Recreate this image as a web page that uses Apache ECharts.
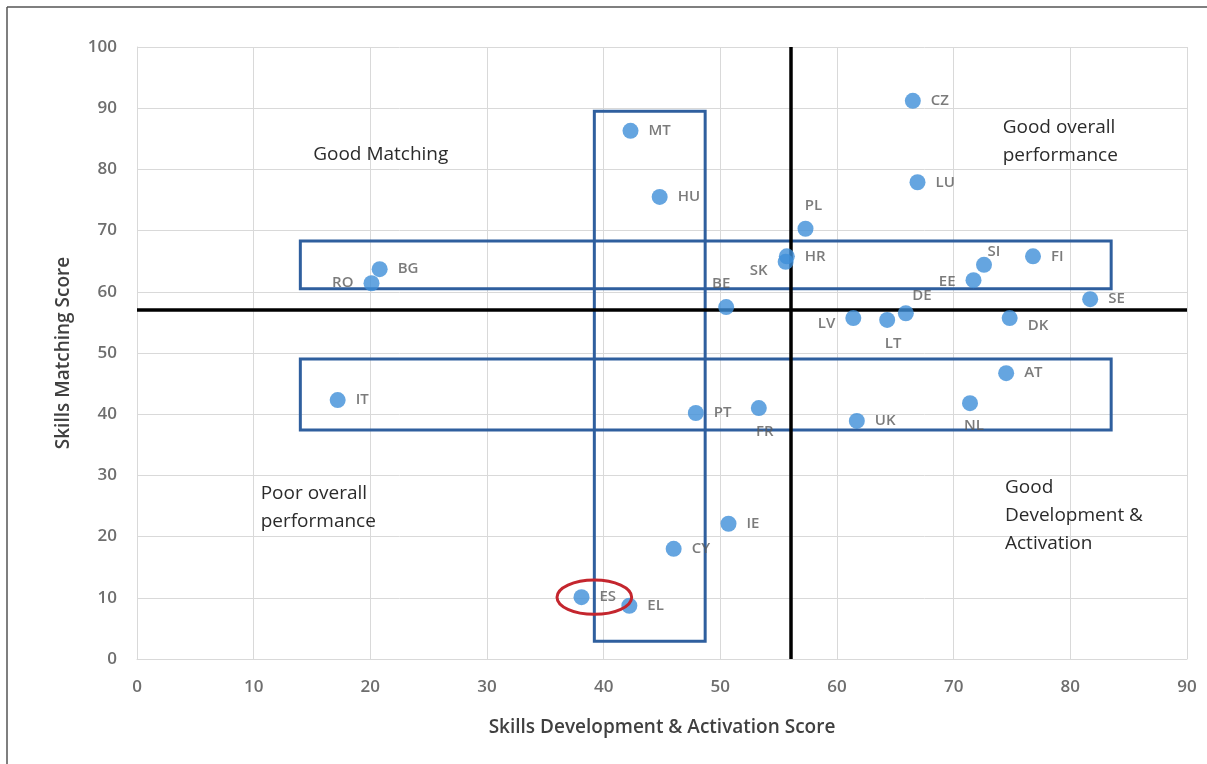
<!DOCTYPE html>
<html>
<head>
<meta charset="utf-8">
<script src="https://cdn.jsdelivr.net/npm/echarts@6/dist/echarts.min.js"></script>
<style>
  html, body { margin: 0; padding: 0; background: #fff; }
  #chart { width: 1207px; height: 764px; }
</style>
</head>
<body>
<div id="chart"></div>
<script>
// data
var countries  = ['CZ','LU','MT','HU','PL','HR','SK','SI','FI','EE','SE','BG','RO','BE','DE','LV','LT','DK','AT','NL','UK','IT','PT','FR','IE','CY','ES','EL'];
var devScore   = [66.5,66.9,42.3,44.8,57.3,55.7,55.6,72.6,76.8,71.7,81.7,20.8,20.1,50.5,65.9,61.4,64.3,74.8,74.5,71.4,61.7,17.2,47.9,53.3,50.7,46.0,38.1,42.2];
var matchScore = [91.2,77.9,86.3,75.5,70.3,65.8,64.9,64.4,65.8,61.9,58.8,63.7,61.4,57.5,56.5,55.7,55.4,55.7,46.7,41.8,38.9,42.3,40.2,41.0,22.1,18.0,10.1,8.7];

// cut lines (averages)
var devCut = 56;
var matchCut = 57;

// highlight boxes: [xFrom, yFrom, xTo, yTo]
var boxes = [
  [39.2, 2.9, 48.7, 89.5],
  [14.0, 60.5, 83.5, 68.3],
  [14.0, 37.4, 83.5, 49.0]
];

// circled country
var ringCenter = [39.2, 10.1];
var ringRadius = [3.2, 2.8];

// quadrant notes (anchor = left edge, vertical middle of the block)
var notes = [
  { text: 'Good Matching', at: [15.1, 82.4] },
  { text: 'Good overall\nperformance', at: [74.2, 84.6] },
  { text: 'Poor overall\nperformance', at: [10.6, 24.7] },
  { text: 'Good\nDevelopment &\nActivation', at: [74.4, 23.4] }
];

// label placement (style only)
var labelPlace = {
  RO: ['left', [0, 0]], SK: ['left', [0, 9]], EE: ['left', [0, 2]], LV: ['left', [0, 6]],
  LT: ['bottom', [6, -2]], DK: ['right', [0, 8]], NL: ['bottom', [4, -3]], FR: ['bottom', [6, -2]],
  BE: ['top', [-5, 2]], PL: ['top', [8, 2]], DE: ['top', [16, 8]], SI: ['top', [10, 12]]
};

var chart = echarts.init(document.getElementById('chart'));

var pts = countries.map(function (c, i) {
  var p = labelPlace[c] || ['right', [0, 0]];
  return {
    name: c,
    value: [devScore[i], matchScore[i]],
    label: { position: p[0], offset: p[1] }
  };
});

var gridColor = '#d9d9d9';

chart.setOption({
  animation: false,
  grid: { left: 137, right: 20, top: 47, bottom: 105 },
  xAxis: {
    type: 'value', min: 0, max: 90, interval: 10,
    name: 'Skills Development & Activation Score',
    nameLocation: 'middle', nameGap: 59,
    nameTextStyle: { fontFamily: 'Open Sans', fontSize: 19, fontWeight: 600, color: '#404040' },
    axisLine: { show: true, lineStyle: { color: gridColor } },
    axisTick: { show: false },
    axisLabel: { margin: 20, fontFamily: 'Open Sans', fontSize: 17, fontWeight: 600, color: '#6e6e6e' },
    splitLine: { show: true, lineStyle: { color: gridColor, width: 1 } }
  },
  yAxis: {
    type: 'value', min: 0, max: 100, interval: 10,
    name: 'Skills Matching Score',
    nameLocation: 'middle', nameGap: 64,
    nameTextStyle: { fontFamily: 'Open Sans', fontSize: 19, fontWeight: 600, color: '#404040' },
    axisLine: { show: true, lineStyle: { color: gridColor } },
    axisTick: { show: false },
    axisLabel: { margin: 20, fontFamily: 'Open Sans', fontSize: 17, fontWeight: 600, color: '#6e6e6e' },
    splitLine: { show: true, lineStyle: { color: gridColor, width: 1 } }
  },
  series: [
    {
      // boxes + cut lines
      type: 'scatter',
      data: [],
      z: 3,
      markArea: {
        silent: true,
        itemStyle: { color: 'rgba(0,0,0,0)', borderColor: '#2f5f9e', borderWidth: 3 },
        data: boxes.map(function (b) {
          return [{ coord: [b[0], b[1]] }, { coord: [b[2], b[3]] }];
        })
      },
      markLine: {
        silent: true,
        symbol: 'none',
        label: { show: false },
        lineStyle: { color: '#000', width: 3.5, type: 'solid' },
        data: [{ xAxis: devCut }, { yAxis: matchCut }]
      }
    },
    {
      type: 'scatter',
      z: 5,
      symbolSize: 16,
      itemStyle: { color: '#3f8fd8' },
      label: {
        show: true,
        formatter: '{b}',
        distance: 10,
        fontFamily: 'Open Sans',
        fontSize: 15,
        fontWeight: 600,
        color: '#5a5a5a'
      },
      data: pts
    }
  ]
});

// overlay elements placed via the axes
var c0 = chart.convertToPixel({ gridIndex: 0 }, ringCenter);
var c1 = chart.convertToPixel({ gridIndex: 0 }, [ringCenter[0] + ringRadius[0], ringCenter[1] + ringRadius[1]]);

var graphics = [
  { type: 'line', shape: { x1: 7, y1: 7, x2: 1207, y2: 7 }, style: { stroke: '#555', lineWidth: 1.5 } },
  { type: 'line', shape: { x1: 7, y1: 7, x2: 7, y2: 764 }, style: { stroke: '#555', lineWidth: 1.5 } },
  {
    type: 'ellipse', z: 10,
    shape: { cx: c0[0], cy: c0[1], rx: Math.abs(c1[0] - c0[0]), ry: Math.abs(c1[1] - c0[1]) },
    style: { fill: 'none', stroke: '#c4262e', lineWidth: 3 }
  }
];

notes.forEach(function (n) {
  var p = chart.convertToPixel({ gridIndex: 0 }, n.at);
  graphics.push({
    type: 'text', z: 10, x: p[0], y: p[1],
    style: {
      text: n.text, fontFamily: 'Open Sans', fontSize: 19, fill: '#2b2b2b',
      lineHeight: 28, verticalAlign: 'middle', align: 'left'
    }
  });
});

chart.setOption({ graphic: graphics });
</script>
</body>
</html>
